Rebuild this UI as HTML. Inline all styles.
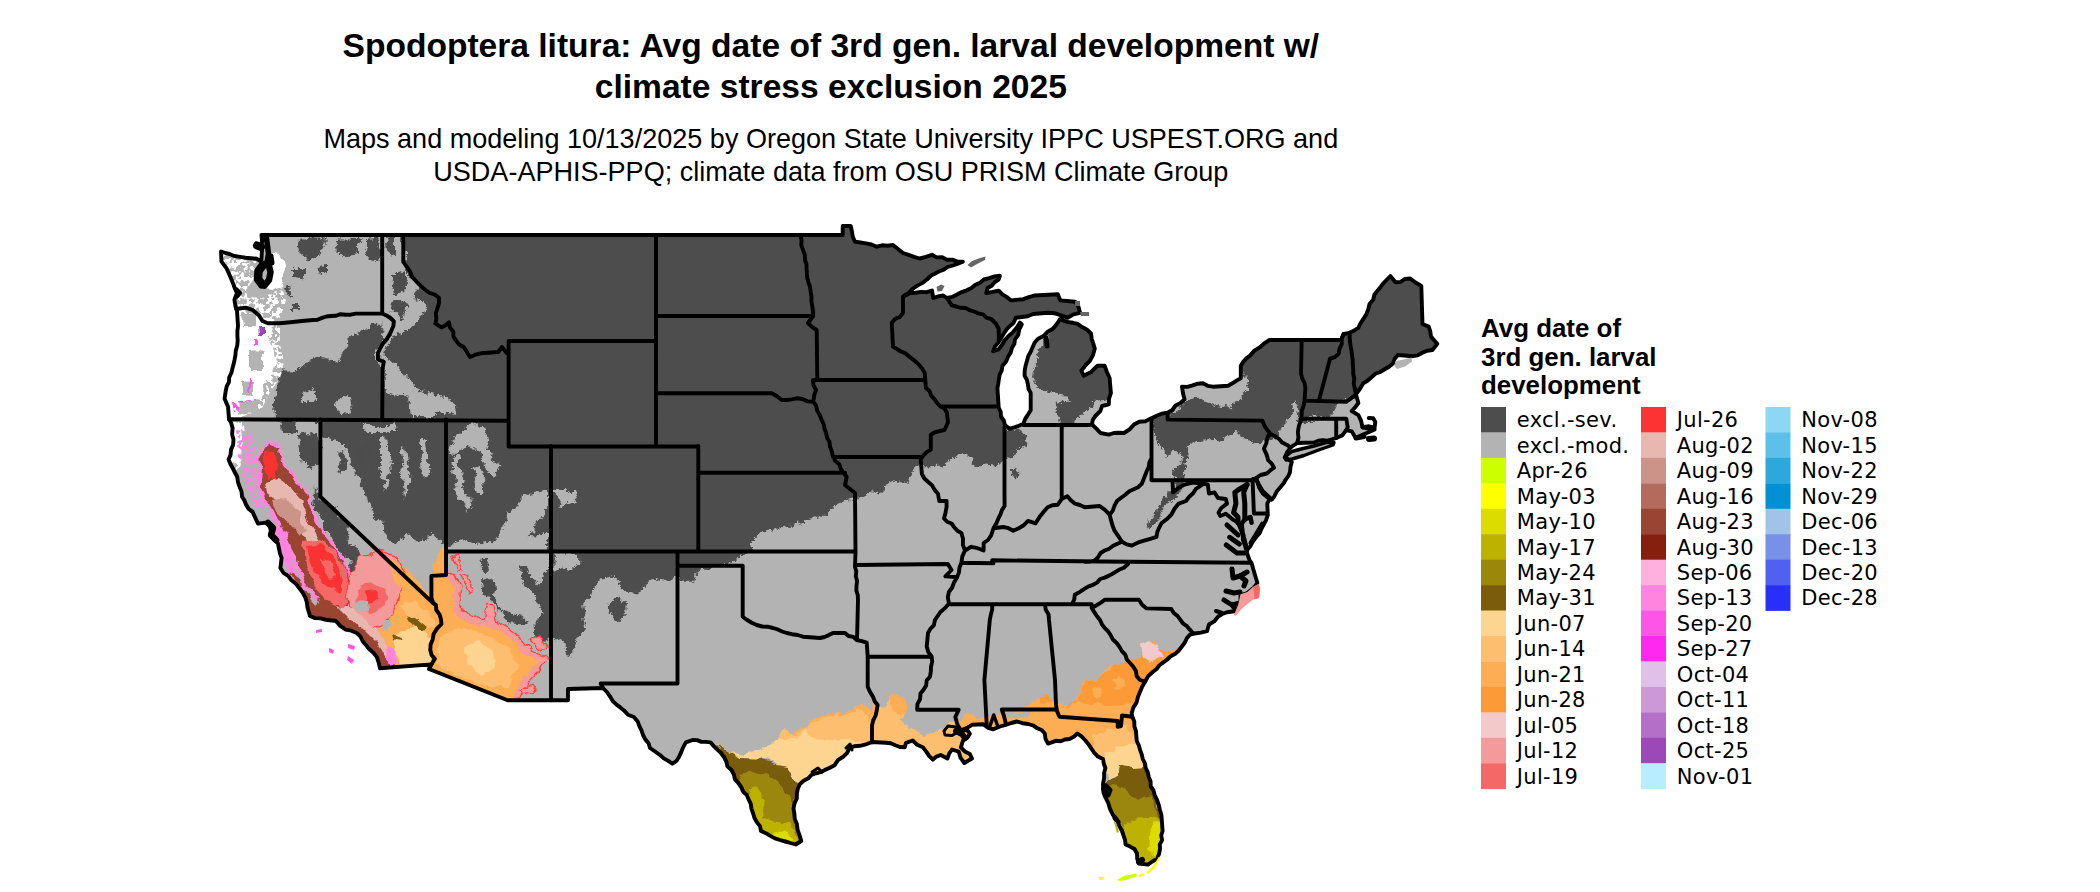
<!DOCTYPE html>
<html lang="en"><head><meta charset="utf-8"><title>Spodoptera litura map</title>
<style>html,body{margin:0;padding:0;background:#fff}body{width:2100px;height:892px;overflow:hidden}svg{display:block}.t{font-family:"Liberation Sans",sans-serif;font-weight:bold;font-size:33.57px;text-anchor:middle;fill:#000}.s{font-family:"Liberation Sans",sans-serif;font-size:27.06px;text-anchor:middle;fill:#000}.lt{font-family:"Liberation Sans",sans-serif;font-weight:bold;font-size:25.9px;fill:#000}.ll{font-family:"DejaVu Sans",sans-serif;font-size:21px;letter-spacing:0.3px;fill:#000}.b{fill:none;stroke:#000;stroke-width:3.9;stroke-linejoin:round;stroke-linecap:round}</style></head><body>
<svg width="2100" height="892" viewBox="0 0 2100 892">
<defs>
<clipPath id="us"><path d="M261.5,235.0 L842.7,235.0 L842.7,226.0 L850.7,226.0 L855.0,241.7 L876.7,246.7 L893.0,245.0 L903.0,253.0 L919.7,258.5 L932.0,254.8 L946.9,259.7 L962.9,261.7 L947.7,267.0 L931.0,275.5 L917.5,285.6 L904.0,295.7 L909.9,293.0 L932.0,290.6 L933.3,298.0 L943.2,295.5 L946.9,298.0 L971.5,288.0 L983.9,279.5 L999.9,275.8 L998.7,279.5 L987.6,288.0 L986.3,293.0 L998.7,290.6 L1011.0,300.4 L1023.3,299.2 L1034.4,295.5 L1057.8,294.3 L1060.3,300.4 L1075.1,301.7 L1080.0,312.8 L1067.7,317.7 L1060.3,315.2 L1048.0,312.8 L1033.2,314.0 L1015.9,317.7 L1013.5,323.0 L1006.6,329.4 L998.2,342.8 L993.2,351.2 L998.6,349.4 L1008.6,336.0 L1020.0,322.6 L1021.8,324.3 L1015.0,339.5 L1008.3,356.3 L1002.4,366.0 L997.4,388.0 L998.7,407.7 L1004.8,425.0 L1009.8,428.7 L1023.3,423.7 L1030.7,410.2 L1030.7,392.9 L1024.6,375.7 L1028.3,355.9 L1038.1,338.7 L1052.9,328.8 L1060.3,318.9 L1077.6,323.9 L1091.1,333.7 L1094.8,348.5 L1089.9,360.9 L1081.3,370.7 L1083.7,375.7 L1091.1,372.0 L1097.3,365.8 L1104.7,365.8 L1109.6,378.0 L1110.9,393.0 L1108.8,404.4 L1102.0,406.0 L1100.4,411.0 L1095.3,416.0 L1092.0,424.5 L1100.4,433.0 L1108.8,434.6 L1124.0,433.0 L1134.0,424.5 L1150.8,418.6 L1167.6,412.7 L1184.5,399.3 L1182.0,386.7 L1203.0,383.3 L1213.0,386.7 L1228.2,385.8 L1240.8,378.3 L1240.8,365.7 L1250.0,355.6 L1260.0,347.2 L1269.6,340.0 L1301.7,340.0 L1341.0,340.0 L1343.6,334.0 L1349.8,332.8 L1358.4,327.8 L1368.3,309.3 L1374.4,294.5 L1390.4,276.0 L1395.4,282.2 L1410.2,278.5 L1421.3,285.9 L1422.5,324.0 L1428.7,326.6 L1431.0,336.5 L1437.3,343.9 L1432.4,350.0 L1412.6,356.2 L1397.8,355.0 L1392.9,363.6 L1375.7,373.5 L1363.3,383.3 L1355.9,394.4 L1358.4,403.0 L1351.7,411.0 L1358.4,415.2 L1361.0,420.6 L1362.5,427.3 L1368.0,428.6 L1374.6,429.5 L1368.0,432.5 L1361.0,435.4 L1355.7,438.0 L1351.7,431.3 L1346.3,430.0 L1342.3,435.4 L1336.2,438.0 L1314.0,442.5 L1297.2,443.0 L1290.6,447.4 L1285.0,457.0 L1291.8,462.0 L1290.0,472.0 L1288.6,475.6 L1280.7,486.8 L1274.0,497.0 L1271.7,499.5 L1269.5,499.0 L1267.3,503.6 L1267.8,514.8 L1266.0,520.4 L1261.7,528.3 L1256.0,537.3 L1250.4,546.2 L1247.0,550.0 L1247.0,553.0 L1249.3,559.7 L1251.7,563.4 L1255.0,575.0 L1257.4,583.0 L1254.0,587.5 L1247.3,593.0 L1240.5,595.4 L1240.5,604.3 L1236.0,611.0 L1227.0,612.2 L1218.0,616.7 L1209.0,624.5 L1207.0,631.2 L1194.6,633.5 L1190.0,634.6 L1181.7,646.7 L1166.7,660.0 L1153.0,671.7 L1145.0,681.7 L1138.0,696.7 L1131.7,713.0 L1132.3,716.7 L1136.8,741.0 L1145.7,768.0 L1154.7,795.0 L1161.4,815.0 L1162.6,831.0 L1160.0,849.0 L1157.0,859.0 L1148.0,864.6 L1139.0,863.5 L1134.5,849.0 L1125.6,844.5 L1122.0,831.0 L1116.6,819.8 L1109.9,808.6 L1105.4,797.4 L1103.0,788.4 L1105.4,768.0 L1103.0,759.0 L1094.0,752.5 L1085.0,740.0 L1077.4,733.5 L1069.5,739.0 L1051.6,742.4 L1048.0,743.6 L1044.8,733.5 L1033.6,725.6 L1017.0,721.5 L1005.7,724.8 L1000.0,726.5 L993.4,729.3 L983.3,724.3 L972.0,724.8 L960.9,730.4 L967.6,730.4 L969.9,733.8 L963.0,740.5 L960.9,747.3 L969.9,754.0 L972.0,758.5 L964.3,763.0 L958.7,751.7 L952.0,749.5 L947.4,758.5 L940.7,755.0 L932.9,759.6 L922.8,747.3 L912.7,740.5 L906.0,742.8 L904.8,747.3 L885.8,742.8 L872.0,742.0 L865.0,744.7 L849.6,748.0 L842.8,757.0 L829.4,768.0 L811.4,775.0 L800.0,784.0 L796.9,793.0 L793.5,808.6 L796.9,824.0 L801.3,841.0 L795.7,844.5 L780.0,840.0 L761.0,831.0 L753.0,813.0 L748.7,799.6 L735.0,779.4 L724.0,757.0 L710.5,742.4 L692.6,740.0 L685.9,742.4 L679.0,757.0 L672.4,763.7 L660.0,755.0 L650.0,748.0 L643.0,735.0 L637.7,721.6 L624.0,710.4 L613.0,701.4 L603.0,688.0 L568.0,689.0 L568.0,700.3 L507.6,700.3 L429.0,669.0 L431.4,664.4 L380.0,668.3 L376.7,656.7 L356.7,633.0 L345.7,629.6 L335.9,621.0 L326.0,619.8 L310.0,616.0 L307.5,607.4 L302.6,592.6 L291.5,580.3 L280.4,568.0 L281.6,558.0 L277.9,543.3 L271.7,536.0 L268.0,522.4 L258.0,523.6 L254.5,516.2 L242.0,496.5 L237.2,476.7 L228.6,459.5 L233.5,439.7 L231.0,422.5 L229.0,419.0 L228.0,406.6 L224.6,398.8 L225.7,391.0 L231.3,373.0 L235.8,350.6 L238.0,326.0 L236.9,309.0 L235.5,306.5 L234.4,299.7 L237.0,293.0 L234.4,287.4 L233.3,284.0 L230.0,276.0 L226.6,268.4 L221.5,261.6 L221.0,251.5 L234.4,256.0 L245.6,257.7 L256.8,258.8 L261.3,261.6 L262.0,250.0 L261.9,239.2Z"/><path d="M1284.4,457.3 L1291.8,451.5 L1303.0,448.5 L1314.0,446.0 L1326.0,442.5 L1334.0,442.5 L1333.0,445.0 L1320.0,449.5 L1304.0,455.5 L1292.0,459.0 L1286.0,460.0Z"/></clipPath>
<filter id="rough" x="0" y="0" width="2100" height="892" filterUnits="userSpaceOnUse"><feTurbulence type="fractalNoise" baseFrequency="0.06" numOctaves="3" seed="7" result="n"/><feDisplacementMap in="SourceGraphic" in2="n" scale="14" xChannelSelector="R" yChannelSelector="G" result="d1"/><feTurbulence type="fractalNoise" baseFrequency="0.35" numOctaves="2" seed="2" result="n2"/><feDisplacementMap in="d1" in2="n2" scale="5" xChannelSelector="G" yChannelSelector="R"/></filter>
<filter id="speck" x="200" y="220" width="300" height="400" filterUnits="userSpaceOnUse"><feTurbulence type="fractalNoise" baseFrequency="0.22" numOctaves="2" seed="11" result="n"/><feColorMatrix in="n" type="matrix" values="0 0 0 0 0 0 0 0 0 0 0 0 0 0 0 14 0 0 0 -6.6" result="m"/><feComposite in="SourceGraphic" in2="m" operator="in"/></filter>
<filter id="rough2" x="0" y="0" width="2100" height="892" filterUnits="userSpaceOnUse"><feTurbulence type="fractalNoise" baseFrequency="0.11" numOctaves="2" seed="3" result="n"/><feDisplacementMap in="SourceGraphic" in2="n" scale="8" xChannelSelector="R" yChannelSelector="G"/></filter>
</defs>
<rect width="2100" height="892" fill="#fff"/>
<text class="t" x="830.8" y="57.1">Spodoptera litura: Avg date of 3rd gen. larval development w/</text>
<text class="t" x="830.8" y="97.6">climate stress exclusion 2025</text>
<text class="s" x="830.8" y="147.9">Maps and modeling 10/13/2025 by Oregon State University IPPC USPEST.ORG and</text>
<text class="s" x="830.8" y="181">USDA-APHIS-PPQ; climate data from OSU PRISM Climate Group</text>
<g clip-path="url(#us)">
<rect x="200" y="215" width="1260" height="677" fill="#b3b3b3"/>
<g filter="url(#rough)">
<path d="M403.0,225.0 L1460.0,225.0 L1460.0,352.0 L1440.0,352.0 L1425.0,358.0 L1412.0,361.0 L1400.0,361.0 L1394.0,369.0 L1378.0,379.0 L1366.0,389.0 L1361.0,397.0 L1347.0,400.0 L1338.7,403.0 L1333.7,412.9 L1321.4,416.6 L1314.0,414.0 L1308.0,421.0 L1314.0,425.0 L1301.7,425.0 L1298.0,420.3 L1296.7,403.0 L1295.5,398.0 L1291.8,408.0 L1285.6,420.3 L1279.5,430.0 L1277.0,437.6 L1269.6,442.5 L1259.7,445.0 L1252.6,445.6 L1250.2,439.5 L1237.8,432.0 L1225.5,437.0 L1220.6,445.6 L1213.2,440.7 L1198.4,442.0 L1188.5,449.3 L1186.0,461.7 L1188.5,466.6 L1183.6,481.4 L1173.7,498.7 L1163.9,511.0 L1154.0,520.9 L1146.6,525.8 L1151.5,516.0 L1161.4,503.6 L1166.3,493.7 L1173.7,479.0 L1175.0,469.0 L1181.0,456.7 L1173.7,449.3 L1163.9,453.0 L1156.5,444.4 L1154.0,432.0 L1152.0,423.4 L1130.0,415.0 L1111.0,398.0 L1104.7,400.3 L1094.8,400.3 L1087.4,410.2 L1077.6,417.6 L1075.1,423.7 L1060.3,422.5 L1055.4,412.6 L1057.8,402.8 L1067.7,401.5 L1067.7,395.4 L1052.9,394.0 L1038.1,388.0 L1033.0,380.0 L1034.0,370.0 L1038.0,355.0 L1046.0,342.0 L1052.0,335.0 L1040.0,330.0 L1010.0,380.0 L1000.0,405.0 L1006.0,428.0 L1020.6,430.8 L1029.2,437.0 L1025.5,448.0 L1013.2,455.5 L1003.3,459.2 L995.9,465.4 L978.7,464.0 L971.3,459.2 L961.4,453.0 L954.0,460.4 L941.7,465.4 L925.6,466.6 L919.5,465.4 L913.3,469.0 L909.6,478.9 L889.9,483.9 L880.0,491.0 L866.7,495.0 L846.7,500.0 L833.0,508.0 L816.7,516.7 L790.0,525.0 L766.7,530.0 L753.0,543.0 L751.7,551.7 L733.0,560.0 L723.0,563.0 L700.0,571.7 L693.0,581.7 L678.0,581.7 L678.0,576.0 L670.7,577.6 L659.0,582.0 L650.3,579.0 L635.7,593.6 L624.0,587.8 L612.4,576.0 L600.7,579.0 L592.0,590.7 L583.2,608.0 L586.0,625.7 L577.4,640.0 L571.6,657.8 L562.8,643.0 L552.6,637.0 L548.0,643.0 L536.6,640.0 L533.7,625.7 L542.4,614.0 L536.6,599.5 L522.0,579.0 L520.6,566.0 L527.8,568.9 L536.6,584.9 L548.0,573.0 L548.0,553.0 L548.0,532.4 L530.8,538.0 L536.6,520.8 L548.0,512.0 L548.0,490.0 L530.8,494.5 L519.0,506.0 L504.5,512.0 L498.7,538.0 L478.3,544.0 L463.7,538.0 L447.7,547.0 L445.0,546.7 L433.0,533.0 L420.0,540.0 L406.7,533.0 L396.7,543.0 L386.7,533.0 L380.0,520.0 L370.0,505.0 L362.0,488.0 L356.0,470.0 L350.0,455.0 L340.0,443.0 L322.0,440.0 L322.0,421.0 L300.0,421.0 L275.0,419.0 L273.9,395.4 L277.3,382.0 L284.0,368.5 L295.2,370.7 L313.0,359.5 L326.6,355.0 L335.6,361.8 L344.5,350.6 L349.0,337.0 L362.5,332.6 L371.4,323.7 L384.9,323.7 L380.4,341.6 L375.9,359.5 L381.5,368.5 L383.0,395.0 L384.8,348.3 L394.7,336.0 L402.0,333.5 L409.5,323.7 L429.2,310.0 L414.4,299.0 L419.3,286.7 L412.0,276.8 L403.3,262.0Z" fill="#4d4d4d"/>
<path d="M313.7,484.0 L321.0,501.4 L331.0,503.9 L343.3,523.6 L353.0,543.3 L363.0,558.0 L363.0,577.8 L353.0,577.8 L348.2,563.0 L338.3,548.0 L326.0,531.0 L318.6,513.7 L313.7,501.0Z" fill="#4d4d4d"/>
<path d="M349.0,447.0 L355.0,444.0 L362.0,462.0 L358.0,477.0 L352.0,468.0Z" fill="#4d4d4d"/>
<path d="M362.0,449.0 L368.0,446.0 L373.0,470.0 L367.0,481.0Z" fill="#4d4d4d"/>
<path d="M336.0,452.0 L342.0,450.0 L346.0,466.0 L340.0,470.0Z" fill="#4d4d4d"/>
<path d="M296.0,435.0 L318.0,432.0 L320.0,464.0 L308.0,468.0 L300.0,455.0Z" fill="#4d4d4d"/>
<path d="M277.0,422.0 L298.0,422.0 L296.0,432.0 L280.0,430.0Z" fill="#4d4d4d"/>
<path d="M299.7,238.5 L326.6,238.5 L326.6,249.7 L317.6,256.4 L306.4,258.6 L297.4,251.9Z" fill="#4d4d4d"/>
<path d="M334.4,238.5 L358.0,238.5 L355.7,251.9 L344.5,255.3 L335.6,249.7Z" fill="#4d4d4d"/>
<path d="M364.7,238.5 L380.4,238.5 L380.4,258.6 L371.4,256.4 L364.7,247.4Z" fill="#4d4d4d"/>
<path d="M295.0,268.0 L304.0,268.0 L304.0,279.0 L295.0,277.0Z" fill="#4d4d4d"/>
<path d="M318.0,267.0 L330.0,266.0 L330.0,272.0 L320.0,274.0Z" fill="#4d4d4d"/>
<path d="M286.0,290.0 L292.0,289.0 L293.0,295.0 L287.0,296.0Z" fill="#4d4d4d"/>
<path d="M290.0,303.0 L296.0,303.0 L296.0,309.0 L290.0,309.0Z" fill="#4d4d4d"/>
<path d="M385.0,237.0 L395.0,237.0 L395.0,255.0 L388.0,258.0Z" fill="#4d4d4d"/>
<path d="M392.0,275.0 L405.0,272.0 L408.0,290.0 L396.0,292.0Z" fill="#4d4d4d"/>
<path d="M395.0,300.0 L410.0,303.0 L402.0,318.0 L392.0,312.0Z" fill="#4d4d4d"/>
<path d="M480.0,558.7 L488.5,558.7 L488.5,571.8 L483.0,571.8Z" fill="#4d4d4d"/>
<path d="M481.0,577.6 L495.8,582.0 L492.9,596.5 L504.5,611.0 L527.8,618.4 L526.4,622.8 L510.4,621.3 L490.0,602.4 L482.7,587.8Z" fill="#4d4d4d"/>
<path d="M606.5,606.0 L615.0,596.5 L628.4,606.0 L626.0,618.0 L615.0,622.8Z" fill="#4d4d4d"/>
<path d="M606.7,602.0 L620.0,596.7 L628.0,606.0 L622.0,623.0 L610.0,618.0Z" fill="#4d4d4d"/>
<path d="M1010.7,472.0 L1016.0,469.0 L1020.6,473.0 L1016.0,477.7Z" fill="#4d4d4d"/>
<path d="M384.8,348.3 L394.7,363.0 L407.0,378.0 L419.3,390.0 L444.0,397.6 L456.3,402.6 L455.0,412.5 L444.0,416.0 L412.0,416.0 L407.0,397.6 L384.8,392.7Z" fill="#b3b3b3"/>
<path d="M448.0,453.0 L455.0,437.0 L470.0,422.5 L484.0,426.0 L491.0,449.0 L500.0,468.3 L492.0,477.0 L484.0,460.0 L471.0,444.0 L452.0,456.0Z" fill="#b3b3b3"/>
<path d="M552.6,552.8 L583.0,552.8 L580.0,565.0 L570.0,573.0 L560.0,568.0 L552.6,572.0Z" fill="#b3b3b3"/>
<path d="M1166.7,416.7 L1181.7,405.0 L1200.0,396.7 L1213.3,401.7 L1230.0,410.0 L1240.0,396.7 L1248.3,386.7 L1243.0,370.0 L1233.0,380.0 L1183.0,384.0 L1180.0,401.0Z" fill="#b3b3b3"/>
<path d="M452.0,460.0 L458.0,458.0 L462.0,480.0 L470.0,500.0 L466.0,510.0 L456.0,490.0Z" fill="#b3b3b3"/>
<path d="M470.0,470.0 L478.0,468.0 L486.0,490.0 L480.0,496.0Z" fill="#b3b3b3"/>
<path d="M380.0,440.0 L386.0,438.0 L392.0,470.0 L386.0,490.0 L380.0,470.0Z" fill="#b3b3b3"/>
<path d="M400.0,450.0 L406.0,448.0 L410.0,480.0 L404.0,500.0Z" fill="#b3b3b3"/>
<path d="M420.0,440.0 L426.0,440.0 L428.0,470.0 L422.0,480.0Z" fill="#b3b3b3"/>
<path d="M360.0,424.0 L400.0,424.0 L396.0,432.0 L366.0,432.0Z" fill="#b3b3b3"/>
<path d="M300.0,392.0 L312.0,388.0 L318.0,400.0 L304.0,404.0Z" fill="#b3b3b3"/>
<path d="M336.0,400.0 L350.0,396.0 L352.0,412.0 L340.0,414.0Z" fill="#b3b3b3"/>
<path d="M553.0,490.0 L572.0,490.0 L577.0,502.0 L560.0,506.0Z" fill="#b3b3b3"/>
</g>
<g filter="url(#rough2)">
<path d="M236.0,309.0 L260.0,314.6 L273.0,329.0 L267.4,336.4 L273.0,348.0 L276.0,361.0 L273.0,372.8 L264.5,381.6 L263.0,393.0 L257.0,402.0 L257.0,410.7 L238.0,418.0 L229.0,419.5 L223.0,398.0 L231.0,373.0 L234.0,350.0 L236.0,326.0Z" fill="#fff"/>
<path d="M271.0,253.0 L282.0,256.0 L285.0,272.0 L282.0,286.0 L272.0,290.0 L268.0,286.0Z" fill="#fff"/>
<path d="M231.0,422.0 L241.0,422.0 L242.0,440.0 L239.0,462.0 L232.0,464.0 L228.0,459.0 L233.0,440.0Z" fill="#fff"/>
</g><g filter="url(#speck)">
<path d="M221.0,251.0 L256.0,258.0 L256.0,276.0 L246.0,290.0 L248.0,300.0 L232.0,300.0 L224.0,270.0Z" fill="#fff"/>
<path d="M238.0,296.0 L262.0,298.0 L282.0,288.0 L286.0,300.0 L280.0,318.0 L266.0,322.0 L252.0,310.0 L238.0,309.0Z" fill="#fff"/>
<path d="M262.0,312.0 L280.0,322.0 L280.0,345.0 L284.0,362.0 L280.0,378.0 L270.0,392.0 L262.0,408.0 L256.0,412.0 L258.0,390.0 L268.0,372.0 L270.0,350.0 L264.0,336.0Z" fill="#fff"/>
<path d="M232.0,422.0 L244.0,422.0 L245.0,440.0 L241.0,466.0 L236.0,470.0Z" fill="#fff"/>
<path d="M232.0,402.0 L256.0,399.0 L258.0,410.0 L234.0,412.0Z" fill="#ff54e8"/>
<path d="M236.0,430.0 L250.0,432.0 L262.0,470.0 L266.0,508.0 L256.0,508.0 L244.0,480.0 L238.0,456.0Z" fill="#ff84e0"/>
</g><g filter="url(#rough2)">
<path d="M241.0,313.0 L256.0,313.0 L256.0,326.0 L243.0,326.0Z" fill="#b3b3b3"/>
<path d="M250.0,349.5 L263.0,349.5 L263.0,370.0 L250.0,370.0Z" fill="#b3b3b3"/>
<path d="M241.0,381.6 L253.0,381.6 L253.0,394.7 L241.0,394.7Z" fill="#b3b3b3"/>
<path d="M240.0,402.0 L258.0,400.0 L258.0,412.0 L238.0,413.6Z" fill="#b3b3b3"/>
<path d="M268.0,441.0 L278.0,443.0 L286.0,464.0 L297.0,479.0 L309.0,494.0 L317.0,518.0 L327.0,536.0 L341.0,553.0 L351.0,573.0 L355.0,593.0 L352.0,607.0 L347.0,612.0 L333.0,613.0 L316.0,600.0 L303.0,585.0 L293.0,560.0 L283.0,538.0 L273.0,520.0 L266.0,504.0 L257.0,489.0 L258.0,469.0 L256.0,457.0Z" fill="#ff84e0"/>
<path d="M268.0,444.7 L277.9,447.0 L282.8,464.4 L293.9,479.0 L306.3,494.0 L313.7,518.7 L323.5,536.0 L338.3,553.0 L348.2,573.0 L351.9,592.6 L345.7,607.4 L333.4,610.0 L318.6,597.6 L306.3,582.8 L296.4,558.0 L286.5,536.0 L276.7,518.7 L269.3,503.9 L260.6,489.0 L261.9,469.3 L259.4,457.0Z" fill="#9a4433"/>
<path d="M266.0,482.0 L278.0,478.0 L292.0,488.0 L302.0,500.0 L308.0,520.0 L318.0,538.0 L330.0,552.0 L326.0,560.0 L312.0,548.0 L300.0,530.0 L290.0,514.0 L278.0,502.0 L268.0,494.0Z" fill="#e8b8b0"/>
<path d="M272.0,500.0 L286.0,498.0 L298.0,512.0 L306.0,530.0 L300.0,536.0 L288.0,522.0 L276.0,512.0Z" fill="#cc9488"/>
<path d="M264.0,452.0 L274.0,452.0 L277.0,468.0 L276.0,479.0 L268.0,479.0 L264.0,468.0Z" fill="#fb3333"/>
<path d="M303.0,542.0 L320.0,539.0 L336.0,552.0 L347.0,572.0 L350.0,596.0 L343.0,607.0 L330.0,605.0 L316.0,589.0 L306.0,566.0Z" fill="#f56868"/>
<path d="M307.0,546.0 L322.0,544.0 L334.0,557.0 L342.0,577.0 L340.0,592.0 L328.0,588.0 L316.0,573.0 L309.0,558.0Z" fill="#fb3333"/>
<path d="M322.0,560.0 L330.0,562.0 L336.0,576.0 L330.0,580.0 L324.0,572.0Z" fill="#f56868"/>
<path d="M271.0,526.0 L282.0,530.0 L290.0,552.0 L297.0,578.0 L300.0,588.0 L292.0,582.0 L282.0,560.0 L276.0,544.0Z" fill="#ff84e0"/>
<path d="M290.0,572.0 L300.0,580.0 L312.0,600.0 L322.0,612.0 L336.0,620.0 L330.0,622.0 L312.0,616.0 L300.0,596.0Z" fill="#9a4433"/>
<path d="M362.0,566.0 L380.0,558.0 L400.0,562.0 L420.0,583.0 L434.0,603.0 L440.0,624.0 L433.0,634.0 L430.0,650.0 L434.0,660.0 L431.0,665.0 L390.0,668.0 L384.0,650.0 L374.0,636.0 L384.0,616.0 L398.0,604.0 L392.0,586.0 L372.0,586.0Z" fill="#fdae55"/>
<path d="M350.0,575.0 L360.0,558.0 L378.0,551.0 L396.0,556.0 L406.0,572.0 L400.0,596.0 L394.0,612.0 L382.0,626.0 L366.0,630.0 L354.0,618.0 L347.0,600.0Z" fill="#f59a9a" stroke="#fb4040" stroke-width="1.3"/>
<path d="M357.0,590.0 L371.0,583.0 L387.0,589.0 L385.0,606.0 L371.0,613.0 L358.0,604.0Z" fill="#f56868"/>
<path d="M364.0,592.0 L374.0,590.0 L378.0,600.0 L368.0,604.0Z" fill="#fb3333"/>
<path d="M388.0,560.0 L398.0,562.0 L408.0,578.0 L402.0,590.0 L394.0,580.0Z" fill="#fdae55"/>
<path d="M355.0,601.0 L368.0,600.0 L369.0,610.0 L357.0,611.0Z" fill="#b3b3b3"/>
<path d="M382.0,621.0 L390.0,621.0 L390.0,631.0 L383.0,630.0Z" fill="#b3b3b3"/>
<path d="M318.0,598.0 L336.0,605.0 L350.0,611.0 L363.0,623.0 L377.0,639.0 L391.0,655.0 L393.0,668.0 L380.0,668.3 L376.7,656.7 L356.7,633.0 L345.7,629.6 L335.9,621.0 L326.0,619.8 L310.0,616.0Z" fill="#9a4433"/>
<path d="M336.0,606.0 L352.0,608.0 L368.0,622.0 L384.0,640.0 L392.0,656.0 L388.0,660.0 L378.0,644.0 L362.0,628.0 L348.0,618.0Z" fill="#e8b8b0"/>
<path d="M386.0,646.0 L392.0,648.0 L395.0,664.0 L390.0,668.0 L387.0,658.0Z" fill="#ff84e0"/>
<path d="M398.0,632.0 L420.0,626.0 L431.0,640.0 L431.0,664.0 L400.0,667.0 L393.0,650.0Z" fill="#fdd590"/>
<path d="M400.0,606.0 L416.0,600.0 L430.0,614.0 L436.0,628.0 L424.0,628.0 L410.0,620.0Z" fill="#fdbe6f"/>
<path d="M406.0,615.0 L416.0,618.0 L427.0,627.0 L420.0,629.0 L408.0,621.0Z" fill="#7a5c0a"/>
<path d="M392.0,634.0 L400.0,637.0 L402.0,641.0 L394.0,639.0Z" fill="#7a5c0a"/>
<path d="M446.0,572.0 L452.0,574.0 L461.0,584.0 L459.0,606.0 L469.0,615.0 L485.0,621.0 L489.0,603.0 L492.0,604.0 L495.0,621.0 L500.0,622.0 L519.0,636.0 L531.0,650.0 L548.0,657.0 L538.0,671.0 L529.0,681.0 L520.0,699.0 L507.6,700.3 L429.0,669.0 L434.0,659.0 L430.0,650.0 L434.0,634.0 L441.0,624.0 L436.0,605.0 L431.0,592.0 L431.0,576.0Z" fill="#f59a9a" stroke="#fb4040" stroke-width="1.3"/>
<path d="M446.0,578.0 L455.0,588.0 L453.0,608.0 L465.0,621.0 L485.0,628.0 L498.0,629.0 L515.0,642.0 L525.0,655.0 L539.0,661.0 L531.0,670.0 L522.0,680.0 L513.0,698.0 L507.6,700.3 L429.0,669.0 L434.0,659.0 L430.0,650.0 L434.0,634.0 L441.0,624.0 L436.0,605.0 L431.0,592.0 L431.0,576.0Z" fill="#fdae55"/>
<path d="M440.0,636.0 L460.0,628.0 L486.0,634.0 L508.0,648.0 L518.0,664.0 L508.0,688.0 L480.0,684.0 L450.0,672.0 L436.0,664.0Z" fill="#fdbe6f"/>
<path d="M464.0,646.0 L480.0,642.0 L494.0,652.0 L496.0,666.0 L482.0,674.0 L468.0,664.0Z" fill="#fdd590"/>
<path d="M440.0,548.0 L446.0,546.0 L447.0,574.0 L432.0,575.0Z" fill="#fdae55"/>
<path d="M452.0,556.0 L456.0,556.0 L462.0,570.0 L458.0,572.0Z" fill="#f59a9a" stroke="#fb4040" stroke-width="1.3"/>
<path d="M462.0,576.0 L466.0,574.0 L474.0,590.0 L470.0,592.0Z" fill="#f59a9a" stroke="#fb4040" stroke-width="1.3"/>
<path d="M530.0,640.0 L540.0,636.0 L548.0,648.0 L540.0,650.0Z" fill="#f59a9a" stroke="#fb4040" stroke-width="1.3"/>
<path d="M520.0,690.0 L532.0,684.0 L536.0,690.0 L524.0,696.0Z" fill="#f59a9a" stroke="#fb4040" stroke-width="1.3"/>
<path d="M786.0,728.0 L793.0,734.0 L806.0,727.0 L811.0,720.0 L829.0,714.0 L847.0,712.0 L861.0,704.0 L872.0,712.0 L873.0,700.0 L878.0,705.0 L872.0,726.0 L872.0,742.0 L850.0,748.0 L830.0,760.0 L812.0,748.0 L796.0,744.0 L784.0,738.0Z" fill="#fdae55"/>
<path d="M777.0,738.0 L786.0,728.0 L796.0,736.0 L806.0,728.0 L812.0,722.0 L830.0,716.0 L847.0,714.0 L860.0,708.0 L870.0,716.0 L872.0,742.0 L865.0,745.0 L850.0,748.0 L843.0,757.0 L829.0,768.0 L811.0,775.0 L800.0,760.0 L780.0,752.0Z" fill="#fdbe6f"/>
<path d="M717.0,744.0 L730.0,752.0 L744.0,755.0 L762.0,750.0 L778.0,740.0 L796.0,740.0 L805.0,730.0 L811.0,739.0 L829.0,740.0 L847.0,739.0 L865.0,745.0 L850.0,748.0 L843.0,757.0 L829.0,768.0 L811.0,775.0 L800.0,784.0 L797.0,790.0 L790.0,770.0 L775.0,762.0 L760.0,758.0 L740.0,758.0 L724.0,757.0Z" fill="#fdd590"/>
<path d="M717.0,744.7 L739.7,758.0 L760.0,759.0 L775.6,763.7 L786.8,766.0 L793.5,779.4 L799.0,786.0 L797.0,793.0 L793.5,808.0 L797.0,824.0 L801.0,841.0 L796.0,844.5 L780.0,840.0 L761.0,831.0 L753.0,813.0 L748.7,799.6 L735.0,779.4 L724.0,757.0Z" fill="#7a5c0a"/>
<path d="M738.0,775.0 L752.0,772.0 L768.0,776.0 L782.0,786.0 L792.0,800.0 L795.0,824.0 L800.0,841.0 L796.0,844.5 L780.0,840.0 L761.0,831.0 L753.0,813.0 L748.7,799.6Z" fill="#9b8709"/>
<path d="M748.0,790.0 L758.0,786.0 L764.0,800.0 L762.0,818.0 L772.0,822.0 L790.0,824.0 L797.0,838.0 L796.0,844.5 L780.0,840.0 L761.0,831.0 L753.0,813.0Z" fill="#bdb200"/>
<path d="M770.0,834.0 L786.0,832.0 L794.0,842.0 L780.0,840.0Z" fill="#dcdc00"/>
<path d="M872.0,712.0 L884.0,706.0 L893.0,696.0 L904.0,700.0 L907.0,713.0 L900.0,720.0 L912.0,730.0 L925.0,736.0 L940.0,730.0 L950.0,724.0 L960.0,722.0 L972.0,722.0 L974.0,760.0 L964.0,766.0 L946.0,760.0 L933.0,761.0 L920.0,749.0 L906.0,749.0 L896.0,748.0 L883.0,744.0 L872.0,744.0Z" fill="#fdbe6f"/>
<path d="M888.0,694.0 L896.0,692.0 L906.0,702.0 L908.0,714.0 L898.0,714.0 L890.0,706.0Z" fill="#fdae55"/>
<path d="M958.0,722.0 L968.0,713.0 L978.0,718.0 L988.0,716.0 L1000.0,716.0 L1000.0,728.0 L985.0,728.0 L970.0,730.0 L960.0,734.0Z" fill="#fdae55"/>
<path d="M985.0,722.0 L1000.0,716.0 L1004.0,710.0 L1020.0,710.0 L1036.0,700.0 L1043.0,695.0 L1055.0,703.0 L1072.0,705.0 L1085.0,682.0 L1100.0,678.0 L1110.0,667.0 L1128.0,663.0 L1140.0,657.0 L1152.0,640.0 L1160.0,650.0 L1173.0,653.0 L1182.0,646.0 L1167.0,660.0 L1153.0,672.0 L1145.0,682.0 L1138.0,697.0 L1132.0,715.0 L1137.0,741.0 L1142.0,756.0 L1120.0,760.0 L1103.0,759.0 L1094.0,752.0 L1085.0,740.0 L1077.0,733.0 L1069.0,739.0 L1048.0,744.0 L1045.0,733.0 L1034.0,726.0 L1014.0,722.0 L1000.0,726.0 L985.0,728.0Z" fill="#fdae55"/>
<path d="M1059.0,704.4 L1067.0,707.0 L1074.0,704.4 L1080.7,692.0 L1086.0,681.5 L1096.8,680.0 L1106.0,673.4 L1111.6,666.7 L1121.0,664.0 L1129.0,660.0 L1140.0,656.7 L1151.7,640.0 L1160.0,650.0 L1173.0,653.0 L1182.0,646.0 L1167.0,660.0 L1153.0,672.0 L1145.0,682.0 L1139.0,690.0 L1134.0,703.0 L1129.0,704.5 L1114.0,706.0 L1094.0,703.5 L1075.0,700.5 L1062.0,708.0Z" fill="#fd9a38"/>
<path d="M1092.0,690.0 L1100.0,688.0 L1104.0,696.0 L1096.0,699.0Z" fill="#fdae55"/>
<path d="M1112.0,680.0 L1120.0,676.0 L1126.0,684.0 L1118.0,690.0Z" fill="#fdae55"/>
<path d="M1040.0,696.0 L1048.0,694.0 L1052.0,702.0 L1044.0,705.0Z" fill="#fd9a38"/>
<path d="M1004.0,711.5 L1030.0,711.5 L1028.0,717.0 L1016.0,719.5 L1006.0,717.5Z" fill="#b3b3b3"/>
<path d="M1140.0,644.0 L1150.0,640.0 L1158.0,648.0 L1163.0,656.0 L1152.0,662.0 L1142.0,658.0Z" fill="#f3c9c9"/>
<path d="M1094.0,735.0 L1110.0,728.0 L1126.0,726.0 L1134.0,732.0 L1140.0,750.0 L1143.0,762.0 L1120.0,766.0 L1105.0,768.0 L1103.0,759.0 L1094.0,752.0Z" fill="#fdbe6f"/>
<path d="M1106.0,752.0 L1120.0,746.0 L1136.0,744.0 L1142.0,758.0 L1146.0,768.0 L1134.0,768.0 L1120.0,764.0 L1119.0,775.0 L1108.0,779.0 L1105.0,768.0Z" fill="#fdd590"/>
<path d="M1107.6,779.4 L1118.8,775.0 L1120.0,763.7 L1134.5,768.0 L1146.0,767.0 L1155.0,795.0 L1161.0,815.0 L1162.6,831.0 L1160.0,849.0 L1157.0,859.0 L1148.0,864.6 L1139.0,863.5 L1134.5,849.0 L1125.6,844.5 L1122.0,831.0 L1116.6,819.8 L1109.9,808.6 L1105.4,797.4 L1103.0,788.4Z" fill="#7a5c0a"/>
<path d="M1106.0,792.0 L1116.0,786.0 L1126.0,790.0 L1138.0,800.0 L1150.0,796.0 L1158.0,812.0 L1162.6,831.0 L1160.0,849.0 L1157.0,859.0 L1148.0,864.6 L1139.0,863.5 L1134.5,849.0 L1125.6,844.5 L1122.0,831.0 L1116.6,819.8 L1109.9,808.6Z" fill="#9b8709"/>
<path d="M1122.0,826.0 L1132.0,820.0 L1144.0,818.0 L1154.0,816.0 L1161.0,822.0 L1162.6,831.0 L1160.0,849.0 L1157.0,859.0 L1148.0,864.6 L1139.0,863.5 L1134.5,849.0 L1125.6,844.5Z" fill="#bdb200"/>
<path d="M1152.0,824.0 L1161.0,822.0 L1162.6,831.0 L1160.0,849.0 L1156.0,858.0 L1150.0,850.0Z" fill="#dcdc00"/>
<path d="M1244.0,548.0 L1248.0,548.0 L1248.0,554.0 L1244.0,554.0Z" fill="#f59a9a"/>
<path d="M316.0,630.0 L322.0,629.0 L322.0,632.0 L316.0,633.0Z" fill="#ff54e8"/>
<path d="M329.0,648.0 L334.0,650.0 L333.0,654.0 L329.0,652.0Z" fill="#ff54e8"/>
<path d="M348.0,644.0 L355.0,646.0 L354.0,650.0 L348.0,648.0Z" fill="#ff54e8"/>
<path d="M348.0,656.0 L354.0,660.0 L352.0,664.0 L347.0,660.0Z" fill="#ff54e8"/>
<path d="M259.0,327.0 L265.0,327.0 L265.0,335.0 L260.0,335.0Z" fill="#9c48b8"/>
<path d="M254.0,341.0 L258.0,341.0 L257.0,346.0 L254.0,346.0Z" fill="#ff54e8"/>
<path d="M249.0,376.0 L251.0,376.0 L251.0,392.0 L249.0,392.0Z" fill="#ff54e8"/>
</g>
</g>
<g class="b">
<path d="M261.5,235.0 L842.7,235.0 L842.7,226.0 L850.7,226.0 L851.9,231.3 L852.8,236.7 L855.0,241.7 L860.5,242.5 L866.0,243.4 L871.5,244.5 L876.7,246.7 L882.1,245.3 L887.6,245.8 L893.0,245.0 L898.0,249.0 L903.0,253.0 L908.5,254.9 L914.1,256.9 L919.7,258.5 L925.9,256.9 L932.0,254.8 L936.7,257.4 L942.2,257.2 L946.9,259.7 L952.3,259.6 L957.5,261.6 L962.9,261.7 L957.9,263.7 L952.9,265.5 L947.7,267.0 L943.8,269.6 L939.4,271.3 L935.2,273.4 L931.0,275.5 L927.0,279.5 L922.5,282.9 L917.5,285.6 L912.8,288.7 L908.9,292.9 L904.0,295.7 L909.9,293.0 L915.5,292.7 L921.0,291.9 L926.6,292.2 L932.0,290.6 L933.3,298.0 L938.2,296.4 L943.2,295.5 L946.9,298.0 L952.2,296.9 L957.0,294.5 L961.7,292.1 L966.7,290.3 L971.5,288.0 L975.3,284.7 L980.0,282.7 L983.9,279.5 L989.2,278.1 L994.4,276.4 L999.9,275.8 L998.7,279.5 L994.8,282.0 L991.7,285.7 L987.6,288.0 L986.3,293.0 L992.5,291.9 L998.7,290.6 L1002.4,294.3 L1006.9,297.1 L1011.0,300.4 L1023.3,299.2 L1028.8,297.2 L1034.4,295.5 L1057.8,294.3 L1060.3,300.4 L1075.1,301.7 L1078.5,306.8 L1080.0,312.8 L1073.5,314.4 L1067.7,317.7 L1060.3,315.2 L1054.3,313.2 L1048.0,312.8 L1033.2,314.0 L1027.7,316.3 L1021.8,317.0 L1015.9,317.7 L1013.5,323.0 L1009.9,326.0 L1006.6,329.4 L1003.7,333.8 L1001.0,338.3 L998.2,342.8 L994.9,346.5 L993.2,351.2 L998.6,349.4 L1002.0,344.9 L1004.8,340.1 L1008.6,336.0 L1013.1,332.1 L1016.8,327.6 L1020.0,322.6 L1021.8,324.3 L1019.3,329.3 L1018.2,334.9 L1015.0,339.5 L1014.3,344.1 L1011.9,348.0 L1010.8,352.4 L1008.3,356.3 L1006.1,361.6 L1002.4,366.0 L1001.7,370.5 L999.7,374.6 L998.9,379.1 L998.3,383.6 L997.4,388.0 L998.7,407.7 L1000.7,411.8 L1001.0,416.6 L1003.8,420.5 L1004.8,425.0 L1009.8,428.7 L1014.4,427.4 L1018.9,425.7 L1023.3,423.7 L1025.2,418.9 L1028.0,414.6 L1030.7,410.2 L1030.7,392.9 L1028.5,388.8 L1027.9,384.2 L1026.8,379.7 L1024.6,375.7 L1024.7,370.6 L1025.6,365.6 L1027.0,360.8 L1028.3,355.9 L1030.8,351.6 L1032.7,347.0 L1034.7,342.5 L1038.1,338.7 L1043.5,336.1 L1047.7,331.7 L1052.9,328.8 L1056.8,324.0 L1060.3,318.9 L1064.4,320.9 L1068.7,322.3 L1073.2,322.8 L1077.6,323.9 L1082.1,327.1 L1087.1,329.7 L1091.1,333.7 L1091.7,338.8 L1093.3,343.6 L1094.8,348.5 L1093.0,355.0 L1089.9,360.9 L1085.3,365.5 L1081.3,370.7 L1083.7,375.7 L1091.1,372.0 L1097.3,365.8 L1104.7,365.8 L1106.9,372.0 L1109.6,378.0 L1110.9,393.0 L1109.0,398.6 L1108.8,404.4 L1102.0,406.0 L1100.4,411.0 L1095.3,416.0 L1092.8,419.9 L1092.0,424.5 L1096.4,428.6 L1100.4,433.0 L1108.8,434.6 L1113.8,433.0 L1118.8,432.7 L1124.0,433.0 L1129.6,429.4 L1134.0,424.5 L1139.3,421.7 L1145.5,421.3 L1150.8,418.6 L1156.2,416.1 L1161.6,413.7 L1167.6,412.7 L1172.3,410.0 L1175.6,405.5 L1180.6,403.0 L1184.5,399.3 L1182.9,393.1 L1182.0,386.7 L1187.4,386.9 L1192.6,385.4 L1197.7,383.7 L1203.0,383.3 L1207.7,385.8 L1213.0,386.7 L1228.2,385.8 L1232.4,383.3 L1236.5,380.6 L1240.8,378.3 L1240.8,365.7 L1243.2,361.8 L1246.4,358.4 L1250.0,355.6 L1254.4,350.6 L1260.0,347.2 L1264.5,343.2 L1269.6,340.0 L1301.7,340.0 L1341.0,340.0 L1343.6,334.0 L1349.8,332.8 L1354.2,330.4 L1358.4,327.8 L1360.6,323.0 L1363.6,318.7 L1366.3,314.2 L1368.3,309.3 L1369.5,304.0 L1373.2,299.8 L1374.4,294.5 L1377.5,290.7 L1380.6,286.9 L1383.6,283.0 L1387.0,279.5 L1390.4,276.0 L1395.4,282.2 L1400.6,281.9 L1405.1,278.9 L1410.2,278.5 L1415.5,282.5 L1421.3,285.9 L1422.5,324.0 L1428.7,326.6 L1430.3,331.4 L1431.0,336.5 L1434.1,340.3 L1437.3,343.9 L1432.4,350.0 L1427.2,350.7 L1422.4,352.8 L1417.7,355.3 L1412.6,356.2 L1397.8,355.0 L1394.6,358.9 L1392.9,363.6 L1389.0,366.8 L1384.7,369.3 L1380.5,371.8 L1375.7,373.5 L1371.8,377.0 L1367.8,380.5 L1363.3,383.3 L1359.8,389.0 L1355.9,394.4 L1358.4,403.0 L1355.3,407.2 L1351.7,411.0 L1358.4,415.2 L1361.0,420.6 L1362.5,427.3 L1368.0,428.6 L1374.6,429.5 L1368.0,432.5 L1361.0,435.4 L1355.7,438.0 L1351.7,431.3 L1346.3,430.0 L1342.3,435.4 L1336.2,438.0 L1331.9,439.4 L1327.5,440.6 L1322.8,440.3 L1318.3,440.8 L1314.0,442.5 L1297.2,443.0 L1290.6,447.4 L1287.3,451.9 L1285.0,457.0 L1291.8,462.0 L1290.5,466.9 L1290.0,472.0 L1288.6,475.6 L1285.9,479.3 L1283.7,483.3 L1280.7,486.8 L1276.7,491.5 L1274.0,497.0 L1271.7,499.5 L1269.5,499.0 L1267.3,503.6 L1267.8,514.8 L1266.0,520.4 L1261.7,528.3 L1259.6,533.3 L1256.0,537.3 L1252.8,541.5 L1250.4,546.2 L1247.0,550.0 L1247.0,553.0 L1249.3,559.7 L1251.7,563.4 L1253.3,569.2 L1255.0,575.0 L1257.4,583.0 L1254.0,587.5 L1247.3,593.0 L1240.5,595.4 L1240.5,604.3 L1236.0,611.0 L1227.0,612.2 L1222.3,614.0 L1218.0,616.7 L1214.2,621.4 L1209.0,624.5 L1207.0,631.2 L1200.8,632.6 L1194.6,633.5 L1190.0,634.6 L1186.8,638.3 L1184.7,642.8 L1181.7,646.7 L1178.6,650.8 L1174.9,654.1 L1170.3,656.5 L1166.7,660.0 L1163.0,662.6 L1159.4,665.3 L1156.6,669.0 L1153.0,671.7 L1148.2,676.1 L1145.0,681.7 L1142.3,686.5 L1140.2,691.6 L1138.0,696.7 L1136.6,702.4 L1133.4,707.4 L1131.7,713.0 L1132.3,716.7 L1134.3,721.4 L1134.4,726.4 L1136.0,731.1 L1136.3,736.1 L1136.8,741.0 L1138.8,745.3 L1140.1,749.9 L1141.7,754.4 L1142.8,759.0 L1144.9,763.3 L1145.7,768.0 L1147.8,772.3 L1148.8,777.0 L1150.6,781.4 L1150.7,786.3 L1153.5,790.4 L1154.7,795.0 L1157.0,799.8 L1158.7,804.8 L1159.9,810.0 L1161.4,815.0 L1162.6,831.0 L1161.2,835.4 L1162.1,840.1 L1159.8,844.4 L1160.0,849.0 L1159.0,854.1 L1157.0,859.0 L1152.3,861.5 L1148.0,864.6 L1139.0,863.5 L1137.2,858.7 L1137.0,853.5 L1134.5,849.0 L1130.1,846.6 L1125.6,844.5 L1125.0,839.8 L1123.5,835.4 L1122.0,831.0 L1119.1,825.5 L1116.6,819.8 L1112.7,814.5 L1109.9,808.6 L1108.2,802.8 L1105.4,797.4 L1103.6,793.1 L1103.0,788.4 L1103.1,783.2 L1104.1,778.2 L1104.1,773.0 L1105.4,768.0 L1103.8,763.6 L1103.0,759.0 L1097.9,756.6 L1094.0,752.5 L1091.1,748.2 L1088.3,743.9 L1085.0,740.0 L1081.5,736.4 L1077.4,733.5 L1073.8,736.7 L1069.5,739.0 L1064.9,739.5 L1060.7,741.3 L1055.9,740.8 L1051.6,742.4 L1048.0,743.6 L1045.5,738.8 L1044.8,733.5 L1041.6,730.0 L1037.3,728.3 L1033.6,725.6 L1028.1,724.0 L1022.5,723.2 L1017.0,721.5 L1011.3,723.0 L1005.7,724.8 L1000.0,726.5 L993.4,729.3 L987.9,727.8 L983.3,724.3 L972.0,724.8 L966.7,728.1 L960.9,730.4 L967.6,730.4 L969.9,733.8 L967.2,737.9 L963.0,740.5 L960.9,747.3 L964.8,751.4 L969.9,754.0 L972.0,758.5 L964.3,763.0 L960.6,757.8 L958.7,751.7 L952.0,749.5 L949.1,753.7 L947.4,758.5 L940.7,755.0 L936.4,756.6 L932.9,759.6 L929.1,755.8 L926.1,751.4 L922.8,747.3 L917.2,744.8 L912.7,740.5 L906.0,742.8 L904.8,747.3 L899.9,747.0 L895.3,745.2 L890.7,743.2 L885.8,742.8 L872.0,742.0 L865.0,744.7 L859.9,745.8 L854.6,746.2 L849.6,748.0 L847.0,753.1 L842.8,757.0 L837.9,760.1 L834.6,765.2 L829.4,768.0 L825.0,769.9 L820.7,772.2 L815.9,773.3 L811.4,775.0 L808.0,778.6 L803.6,780.7 L800.0,784.0 L797.9,788.3 L796.9,793.0 L796.8,798.4 L794.5,803.4 L793.5,808.6 L794.4,813.8 L794.8,819.1 L796.9,824.0 L797.6,829.9 L799.6,835.4 L801.3,841.0 L795.7,844.5 L790.5,843.0 L785.2,841.5 L780.0,840.0 L774.9,838.4 L770.3,835.9 L765.8,833.2 L761.0,831.0 L760.0,826.1 L756.8,822.1 L754.4,817.8 L753.0,813.0 L751.4,808.6 L750.8,803.9 L748.7,799.6 L746.8,795.0 L743.1,791.6 L741.2,787.0 L738.3,783.0 L735.0,779.4 L733.8,774.4 L731.5,770.0 L727.4,766.4 L726.3,761.5 L724.0,757.0 L721.0,753.0 L717.4,749.6 L713.8,746.1 L710.5,742.4 L706.0,741.9 L701.5,741.9 L697.1,740.1 L692.6,740.0 L685.9,742.4 L683.2,747.1 L681.2,752.1 L679.0,757.0 L676.4,761.0 L672.4,763.7 L668.2,760.9 L663.8,758.4 L660.0,755.0 L655.0,751.5 L650.0,748.0 L648.6,743.2 L645.3,739.4 L643.0,735.0 L641.5,730.4 L639.4,726.1 L637.7,721.6 L633.8,717.0 L628.0,714.8 L624.0,710.4 L620.3,707.4 L616.5,704.6 L613.0,701.4 L610.1,696.6 L606.9,692.0 L603.0,688.0 L568.0,689.0 L568.0,700.3 L507.6,700.3 L429.0,669.0 L431.4,664.4 L380.0,668.3 L378.6,662.4 L376.7,656.7 L373.4,652.7 L369.4,649.3 L366.2,645.3 L362.8,641.4 L360.5,636.5 L356.7,633.0 L351.4,630.7 L345.7,629.6 L340.2,625.9 L335.9,621.0 L326.0,619.8 L320.7,618.4 L315.1,618.1 L310.0,616.0 L307.5,607.4 L306.8,602.2 L305.2,597.2 L302.6,592.6 L299.3,588.1 L295.9,583.8 L291.5,580.3 L288.2,575.8 L283.4,572.8 L280.4,568.0 L281.6,558.0 L279.9,553.2 L278.9,548.2 L277.9,543.3 L274.3,540.0 L271.7,536.0 L271.1,531.3 L269.8,526.8 L268.0,522.4 L258.0,523.6 L254.5,516.2 L252.6,511.9 L248.7,508.9 L246.2,504.9 L244.4,500.5 L242.0,496.5 L241.5,491.4 L239.5,486.6 L237.9,481.8 L237.2,476.7 L234.9,472.5 L232.7,468.2 L230.4,464.0 L228.6,459.5 L230.6,454.7 L231.0,449.6 L233.1,444.9 L233.5,439.7 L232.1,434.1 L232.6,428.1 L231.0,422.5 L229.0,419.0 L228.0,406.6 L224.6,398.8 L225.7,391.0 L226.7,386.4 L228.9,382.1 L229.2,377.3 L231.3,373.0 L232.4,368.6 L233.6,364.1 L234.6,359.7 L235.4,355.2 L235.8,350.6 L237.2,345.8 L237.7,340.9 L237.4,335.9 L237.4,330.9 L238.0,326.0 L236.9,309.0 L235.5,306.5 L234.4,299.7 L237.0,293.0 L234.4,287.4 L233.3,284.0 L230.0,276.0 L226.6,268.4 L221.5,261.6 L221.0,251.5 L225.5,253.0 L230.0,254.2 L234.4,256.0 L240.0,256.9 L245.6,257.7 L256.8,258.8 L261.3,261.6 L262.0,250.0 L261.9,239.2Z"/>
<path d="M1284.4,457.3 L1291.8,451.5 L1303.0,448.5 L1314.0,446.0 L1326.0,442.5 L1334.0,442.5 L1333.0,445.0 L1320.0,449.5 L1304.0,455.5 L1292.0,459.0 L1286.0,460.0Z" stroke-width="3.4"/>
<path d="M236.0,309.0 L245.6,307.6 L252.4,309.8 L259.0,315.4 L262.4,321.0 L268.0,323.3 L279.3,323.3 L290.5,322.2 L302.0,321.0 L313.0,320.0 L317.6,319.8 L322.0,317.9 L326.4,316.5 L331.0,316.0 L335.6,315.8 L340.5,314.2 L345.6,314.7 L350.7,314.7 L355.7,313.6 L382.2,313.6 M382.2,235.0 L382.2,313.6 L386.6,315.5 L390.5,318.0 L393.9,321.4 L393.3,326.2 L391.4,330.6 L389.4,334.9 L386.6,339.4 L383.0,343.4 L380.4,348.0 L378.0,352.8 L378.0,359.5 L383.8,361.8 L382.6,368.5 L382.2,419.5 M403.3,235.0 L403.3,262.0 L406.6,266.7 L410.0,271.4 L412.0,276.8 L415.2,280.2 L418.4,283.7 L421.9,286.9 L425.4,290.0 L429.2,292.8 L434.5,294.5 L439.0,297.8 L439.0,303.1 L437.5,308.2 L435.8,313.2 L436.4,318.6 L435.4,323.7 L441.5,327.4 L445.5,325.3 L449.0,322.4 L449.9,327.4 L453.2,331.5 L453.6,336.7 L456.3,341.0 L459.4,344.7 L463.7,347.0 L466.9,351.9 L469.9,357.0 L475.3,354.7 L481.0,353.3 L498.3,352.0 L502.0,347.0 L506.9,353.3 L508.6,353.3 M229.0,419.3 L508.6,420.8 M508.6,341.0 L656.0,341.0 M508.6,341.0 L508.6,446.0 M508.6,446.5 L698.3,446.2 M656.0,235.0 L656.0,446.0 M656.0,316.0 L813.3,316.0 M656.0,393.3 L771.7,393.3 L777.0,396.3 L781.7,400.0 L786.8,400.0 L791.8,399.4 L796.7,398.3 L802.3,399.0 L807.6,401.4 L813.3,401.7 M551.0,446.0 L551.0,700.3 M446.0,551.5 L853.3,551.5 M446.0,419.5 L446.0,575.0 L431.4,575.9 L431.4,591.6 L431.4,597.6 L433.3,603.3 L435.9,605.0 L436.3,610.0 L439.5,614.3 L440.9,619.0 L441.5,624.0 L437.0,628.6 L433.6,634.0 L432.7,639.4 L430.6,644.5 L430.3,650.0 L431.6,654.9 L434.8,658.8 L431.4,664.4 M320.4,419.5 L320.4,496.7 L433.3,603.3 M698.3,446.0 L698.3,551.5 M698.3,472.7 L845.0,472.7 M677.5,551.5 L677.5,683.5 L600.7,683.5 L603.0,688.0 M677.5,565.7 L742.7,565.7 L742.7,616.7 L747.1,620.0 L751.7,622.7 L756.7,625.0 L762.0,626.5 L767.6,626.7 L773.0,628.0 L777.7,629.4 L782.1,631.5 L786.7,633.0 L792.1,634.2 L797.7,635.0 L803.0,636.7 L820.0,638.0 L824.6,637.0 L828.8,635.1 L833.0,633.0 L845.0,633.0 L848.5,636.0 L853.3,636.8 L856.7,640.0 L861.8,641.1 L866.7,642.7 L867.7,656.7 L867.7,686.7 L870.0,691.9 L873.0,696.7 L874.7,701.2 L877.6,705.0 L876.8,710.3 L875.6,715.5 L873.2,720.4 L872.0,725.6 L872.0,742.4 M800.0,235.0 L801.6,239.9 L801.3,245.1 L803.1,250.0 L804.8,254.8 L805.0,260.0 L806.5,264.3 L806.6,268.9 L806.9,273.5 L807.3,278.0 L808.4,282.4 L810.0,286.7 L810.6,291.6 L811.5,296.4 L811.4,301.4 L812.3,306.2 L813.0,311.1 L813.3,316.0 L808.0,323.0 L812.0,326.9 L816.7,330.0 L817.3,380.0 L813.0,380.0 L813.5,385.3 L816.0,390.0 L814.1,395.7 L813.3,401.7 L816.1,405.9 L817.3,410.9 L819.8,415.3 L821.7,420.0 L823.7,424.3 L824.6,428.9 L826.2,433.2 L827.1,437.8 L829.5,442.0 L830.0,446.7 L831.9,451.6 L833.0,456.7 L835.3,461.0 L839.2,464.2 L840.8,469.0 L843.6,472.9 L846.7,476.7 L845.0,485.0 L850.0,489.0 L855.0,493.0 L855.5,551.5 L855.0,566.7 L856.3,571.4 L855.8,576.2 L857.1,580.9 L856.5,585.7 L856.4,590.6 L857.8,595.2 L858.0,600.0 L857.0,640.0 M813.3,380.0 L925.0,380.0 M833.0,457.0 L920.7,457.0 M855.0,565.0 L947.8,564.0 L951.5,570.0 L945.4,576.3 L956.5,577.0 M867.7,656.7 L931.7,656.7 M909.9,293.0 L903.0,296.7 L903.0,313.0 L899.7,316.9 L895.0,319.1 L891.7,323.0 L893.0,346.7 L900.0,351.0 L905.5,353.4 L910.1,357.3 L914.8,360.9 L918.7,364.4 L922.1,368.4 L924.7,373.0 L925.9,388.0 L929.5,391.1 L931.2,395.6 L934.3,399.0 L937.0,402.8 L940.1,406.3 L944.4,408.6 L946.9,412.6 L948.0,422.5 L944.4,430.0 L939.6,431.0 L935.0,432.3 L930.8,434.8 L930.8,449.6 L926.7,452.1 L923.4,455.3 L920.7,459.2 L921.9,474.0 L924.4,478.5 L928.2,482.0 L932.1,485.4 L934.6,489.9 L938.0,493.7 L939.2,501.0 L946.6,501.0 L946.6,506.9 L945.5,512.7 L944.0,518.4 L947.1,521.8 L951.6,523.5 L954.3,527.3 L957.3,530.8 L961.4,533.0 L963.0,538.7 L962.9,544.9 L965.0,550.5 L962.3,556.4 L961.4,562.8 L959.5,567.5 L958.9,572.6 L956.9,577.8 L954.0,582.5 L952.2,587.5 L948.9,592.0 L947.8,597.3 L949.0,603.5 L945.1,608.1 L940.4,612.0 L937.7,616.0 L934.9,620.1 L933.9,625.1 L930.5,628.8 L928.0,633.0 L926.7,646.7 L928.4,652.1 L931.7,656.7 L932.2,661.8 L931.0,666.7 L930.8,671.7 L930.0,676.7 L926.7,680.4 L926.1,685.6 L923.5,689.7 L920.5,693.5 L920.1,699.0 L917.4,704.1 L917.2,709.7 L958.7,709.7 L955.3,717.0 L957.5,724.8 L960.9,730.4 M946.9,298.0 L951.8,305.4 L956.3,306.5 L960.7,307.8 L965.4,308.0 L969.6,310.2 L974.0,311.5 L978.3,313.4 L983.1,314.3 L986.7,317.8 L991.3,319.0 L995.7,323.3 L998.7,328.8 L998.9,341.0 M942.0,406.5 L998.0,406.5 M1004.5,427.0 L1004.5,493.7 L1004.6,506.0 L1002.0,509.8 L1000.5,514.3 L998.4,518.4 L996.3,523.5 L993.5,528.3 M965.0,550.5 L971.3,546.8 L977.6,548.2 L983.6,550.5 L983.6,543.0 L988.0,540.0 L991.0,535.7 L993.5,528.3 L1003.3,527.0 L1008.5,528.2 L1013.2,530.7 L1018.2,528.5 L1023.0,525.8 L1028.0,520.9 L1035.4,523.3 L1040.3,515.9 L1043.9,511.5 L1047.7,507.3 L1052.4,505.2 L1057.6,504.8 L1062.0,498.7 L1067.4,496.2 L1070.8,500.2 L1074.8,503.6 L1079.9,505.0 L1084.7,507.3 L1099.7,506.0 L1105.0,509.9 L1109.6,514.7 L1112.8,510.6 L1114.5,505.6 L1117.0,501.0 L1121.1,497.8 L1125.3,494.7 L1129.3,491.3 L1133.7,489.3 L1138.1,487.2 L1141.7,483.9 L1144.2,477.7 L1146.6,471.5 L1148.7,467.2 L1149.4,462.3 L1151.5,458.0 M1023.3,425.0 L1089.9,425.0 M1061.7,425.0 L1061.7,498.7 M1151.5,419.0 L1151.5,480.2 L1252.6,480.2 M1167.6,413.6 L1167.6,419.6 L1262.4,420.6 L1264.1,425.0 L1266.5,429.1 L1269.7,432.7 L1267.4,437.9 L1266.2,443.5 L1263.9,448.7 L1266.5,454.4 L1268.3,460.4 L1271.7,463.6 L1274.0,467.7 L1270.3,470.4 L1266.8,473.5 L1260.6,475.0 L1255.2,478.6 L1252.6,480.2 L1253.9,513.5 L1266.0,513.5 M1270.5,434.0 L1274.9,436.1 L1278.9,438.8 L1282.2,442.6 L1286.6,444.7 L1290.6,447.4 M1109.6,514.7 L1111.0,520.1 L1112.5,525.5 L1114.5,530.7 L1118.3,536.2 L1122.0,541.8 L1126.6,544.4 L1131.8,545.5 L1137.7,542.7 L1144.0,540.6 L1150.3,538.8 L1156.5,536.9 L1157.3,532.1 L1159.2,527.6 L1161.4,523.3 L1166.6,519.3 L1171.3,514.7 L1174.5,508.8 L1178.7,503.6 L1186.0,501.0 L1189.2,496.8 L1193.1,493.3 L1196.0,488.8 L1203.3,483.9 L1207.8,484.6 L1209.0,493.5 L1214.6,492.4 L1218.0,498.0 L1225.8,499.0 L1227.0,503.6 L1221.3,508.0 L1218.5,512.6 L1220.2,516.0 L1225.8,513.7 L1232.5,519.3 L1238.0,522.7 L1241.0,530.0 L1242.7,534.9 L1243.0,540.0 L1244.6,544.5 L1246.0,549.0 M1172.5,480.2 L1173.0,492.5 L1177.9,488.2 L1183.6,485.0 L1188.5,483.6 L1193.5,482.6 L1203.3,483.9 M1122.0,541.8 L1117.5,543.7 L1113.1,545.7 L1109.2,548.7 L1104.7,550.5 L1100.6,553.0 L1098.2,557.1 L1094.8,560.3 L1090.0,561.9 L1085.0,562.0 M961.4,562.8 L993.5,563.3 L992.2,560.3 L1100.0,561.5 L1250.0,562.8 M1128.0,564.0 L1123.9,567.7 L1118.9,569.8 L1114.3,572.7 L1109.6,575.4 L1104.7,577.6 L1100.2,579.0 L1097.0,582.6 L1093.0,584.8 L1088.6,586.3 L1084.7,588.7 L1079.9,591.9 L1074.8,594.8 L1074.3,599.3 L1072.4,603.5 M949.0,604.2 L1091.7,604.2 L1091.7,608.0 M1091.7,608.0 L1096.2,605.5 L1100.5,602.8 L1104.7,599.8 L1139.0,599.8 L1142.1,604.7 L1146.6,608.4 L1171.3,609.0 L1173.7,613.0 L1177.5,615.9 L1180.3,619.6 L1182.9,623.4 L1186.9,626.1 L1189.8,629.7 L1193.0,633.0 M1091.7,608.0 L1094.3,612.1 L1097.0,616.2 L1100.0,620.0 L1102.0,624.4 L1104.8,628.2 L1108.3,631.5 L1110.8,635.6 L1113.1,639.8 L1116.7,643.0 L1119.5,646.9 L1121.9,651.1 L1125.3,654.6 L1126.8,659.4 L1130.0,663.0 L1133.3,666.8 L1135.9,671.0 L1136.7,676.2 L1140.0,680.0 L1145.0,681.7 M1045.0,604.2 L1045.7,609.6 L1048.6,614.5 L1049.0,620.0 L1055.0,680.0 L1056.0,705.0 L1057.0,711.1 L1059.4,716.7 L1117.7,721.0 L1117.7,726.8 L1121.0,726.0 L1122.0,715.5 L1132.3,716.7 M992.2,604.2 L992.2,609.6 L990.8,614.8 L989.8,620.0 L984.4,680.0 L986.7,725.0 M1056.0,709.5 L1001.8,709.5 L1004.0,716.0 L1005.7,723.0 M1301.7,340.0 L1301.0,373.5 L1302.2,378.4 L1304.5,383.0 L1305.4,388.0 L1304.6,400.6 L1303.5,405.8 L1301.8,410.9 L1301.7,416.3 L1300.4,421.5 L1298.7,426.7 L1297.9,432.1 L1298.4,437.7 L1297.2,443.0 M1343.6,334.0 L1341.7,338.8 L1341.8,344.0 L1339.6,348.7 L1338.7,353.7 L1334.8,357.1 L1330.0,358.7 L1318.9,400.8 M1349.8,332.8 L1349.6,337.4 L1350.0,341.9 L1350.7,346.5 L1351.5,351.0 L1352.1,355.5 L1352.7,360.0 L1352.8,364.7 L1353.2,369.3 L1353.2,374.0 L1354.3,378.7 L1353.7,383.4 L1354.7,388.0 L1355.9,394.4 M1304.6,400.6 L1346.0,401.8 L1351.1,398.3 L1356.0,394.4 M1300.8,418.8 L1346.3,418.8 L1347.7,427.3 L1346.3,430.0 M1336.2,418.8 L1336.2,438.0"/>
<path d="M1253.0,479.0 L1257.0,481.0 L1259.4,488.0 L1262.8,493.5 L1269.5,499.0" stroke-width="3.9"/>
<path d="M1256.0,478.0 L1258.3,483.5 L1262.8,491.3 L1271.7,499.5" stroke-width="3.9"/>
<path d="M1247.0,550.0 L1244.8,541.7 L1242.6,532.8 L1241.5,523.8 L1244.8,519.3 L1250.4,517.0 L1251.6,522.7" stroke-width="4.5"/>
<path d="M1244.8,519.3 L1244.8,503.6 L1243.7,492.4 L1247.0,484.6" stroke-width="5"/>
<path d="M1247.0,484.6 L1238.0,490.0 L1234.8,492.4 L1235.9,503.6 L1233.6,512.6 L1238.0,517.0 L1238.0,522.7" stroke-width="5"/>
<path d="M1227.0,525.0 L1238.0,535.0" stroke-width="5"/>
<path d="M1229.7,537.3 L1239.2,544.0" stroke-width="5"/>
<path d="M1226.3,545.0 L1237.0,553.0 L1244.8,553.0" stroke-width="5"/>
<path d="M1262.0,523.0 L1256.0,533.0 L1250.0,543.0" stroke-width="3"/>
<path d="M257.0,245.5 L261.0,247.0" stroke-width="8"/>
<path d="M263.0,240.0 L266.0,239.0" stroke-width="5"/>
<path d="M266.5,238.0 L267.5,246.0 L268.5,254.0 L267.0,262.0" stroke-width="5.5"/>
<path d="M271.0,256.0 L272.0,263.0" stroke-width="5"/>
<path d="M263.0,265.0 L258.5,271.0 L258.0,279.0 L262.0,284.5" stroke-width="8.5"/>
<path d="M268.5,264.0 L270.5,272.0 L269.0,280.0 L264.5,285.5" stroke-width="6.5"/>
<path d="M236.5,290.0 L239.5,293.0 L237.0,296.0" stroke-width="5"/>
<path d="M268.0,523.0 L273.0,528.0 L271.0,535.0 L276.0,540.0" stroke-width="6.5"/>
<path d="M1104.0,790.0 L1108.0,795.0 L1110.0,790.0 L1106.0,786.0" stroke-width="5"/>
<path d="M1115.0,818.0 L1118.0,822.0" stroke-width="5"/>
<path d="M1139.0,862.0 L1142.0,860.0" stroke-width="6"/>
<path d="M1046.0,338.0 L1047.0,346.0" stroke-width="5"/>
<path d="M944.0,731.0 L948.0,726.0 L956.0,727.0 L958.0,732.0 L952.0,735.5 L945.0,735.0 L944.0,731.0" stroke-width="3"/>
<path d="M956.0,731.0 L962.0,734.0 L965.0,738.0" stroke-width="6"/>
<path d="M990.0,726.0 L993.7,715.0 L997.7,726.0" stroke-width="3.5"/>
<path d="M846.0,748.0 L850.0,744.0 L852.0,750.0" stroke-width="3"/>
<path d="M812.0,772.0 L818.0,768.0 L822.0,772.0" stroke-width="3"/>
<path d="M1232.0,569.0 L1233.0,578.0 L1240.0,576.0 L1247.0,572.0" stroke-width="5"/>
<path d="M1240.0,576.0 L1246.0,581.0 L1244.0,586.0" stroke-width="5"/>
<path d="M1226.0,591.0 L1234.0,593.0 L1240.0,592.0" stroke-width="5"/>
<path d="M1224.0,600.0 L1232.0,605.0 L1240.0,603.0" stroke-width="5"/>
<path d="M1232.0,605.0 L1236.0,610.0" stroke-width="5"/>
<path d="M1216.0,611.0 L1222.0,613.0" stroke-width="4"/>
<path d="M1362.5,427.3 L1369.0,426.3 L1374.6,427.6 L1375.3,422.0 L1373.2,418.2 L1368.8,418.0" stroke-width="3.9"/>
<path d="M1356.0,438.0 L1364.0,436.5" stroke-width="5"/>
<path d="M1369.0,439.0 L1374.0,438.5" stroke-width="6"/>
</g>
<path d="M1395.5,361.0 L1404.0,359.5 L1411.5,357.5 L1412.0,361.5 L1405.0,366.5 L1397.0,369.0 L1394.5,366.0Z" fill="#b3b3b3"/>
<path d="M967.5,265.0 L972.0,261.0 L980.0,258.0 L985.5,256.5 L985.0,260.0 L978.0,263.5 L971.0,267.5Z" fill="#666666"/>
<path d="M936.5,287.0 L941.0,284.5 L944.5,286.0 L942.0,291.0 L937.5,291.5Z" fill="#666666"/>
<path d="M1075.0,301.0 L1080.0,301.0 L1080.0,306.0 L1075.0,306.0Z" fill="#666666"/>
<path d="M1080.0,312.0 L1089.0,312.0 L1089.0,316.0 L1081.0,316.0Z" fill="#666666"/>
<path d="M1240.5,594.2 L1247.3,592.0 L1252.9,587.0 L1258.5,584.0 L1260.0,588.6 L1259.0,598.0 L1252.9,599.8 L1247.3,604.3 L1242.8,607.7 L1236.0,615.5 L1233.8,615.5 L1238.3,604.3Z" fill="#f59a9a"/>
<path d="M1252.9,587.0 L1258.5,584.0 L1260.0,588.6 L1259.0,598.0 L1254.5,599.3 L1254.0,593.0Z" fill="#f56868"/>
<path d="M1117.0,880.0 L1124.0,876.0 L1136.0,873.5 L1137.0,876.0 L1128.0,879.5 L1120.0,881.0Z" fill="#ccff00"/>
<path d="M1138.5,875.0 L1143.0,873.3 L1143.8,875.5 L1139.5,877.3Z" fill="#ffff00"/>
<path d="M1146.3,872.5 L1153.0,866.0 L1159.0,856.5 L1160.5,857.5 L1154.5,868.0 L1147.5,874.3Z" fill="#ffff00"/>
<path d="M1114.0,822.0 L1116.0,822.0 L1119.0,832.0 L1117.0,833.0Z" fill="#bdb200"/>
<path d="M1099.0,877.0 L1103.0,877.0 L1103.0,880.0 L1099.0,880.0Z" fill="#ffff00"/>
<path d="M316.0,630.0 L322.0,629.0 L322.0,632.0 L316.0,633.0Z" fill="#ff54e8"/>
<path d="M329.0,648.0 L334.0,650.0 L333.0,654.0 L329.0,652.0Z" fill="#ff54e8"/>
<path d="M348.0,644.0 L355.0,646.0 L354.0,650.0 L348.0,648.0Z" fill="#ff54e8"/>
<path d="M348.0,656.0 L354.0,660.0 L352.0,664.0 L347.0,660.0Z" fill="#ff54e8"/>
<text class="lt" x="1481" y="337.3">Avg date of</text>
<text class="lt" x="1481" y="365.5">3rd gen. larval</text>
<text class="lt" x="1481" y="393.5">development</text>
<rect x="1481" y="407.0" width="25" height="25.8" fill="#4d4d4d"/>
<text class="ll" x="1516.8" y="427.3">excl.-sev.</text>
<rect x="1481" y="432.4" width="25" height="25.8" fill="#b3b3b3"/>
<text class="ll" x="1516.8" y="452.8">excl.-mod.</text>
<rect x="1481" y="457.9" width="25" height="25.8" fill="#ccff00"/>
<text class="ll" x="1516.8" y="478.2">Apr-26</text>
<rect x="1481" y="483.4" width="25" height="25.8" fill="#ffff00"/>
<text class="ll" x="1516.8" y="503.7">May-03</text>
<rect x="1481" y="508.8" width="25" height="25.8" fill="#dcdc00"/>
<text class="ll" x="1516.8" y="529.1">May-10</text>
<rect x="1481" y="534.2" width="25" height="25.8" fill="#bdb200"/>
<text class="ll" x="1516.8" y="554.5">May-17</text>
<rect x="1481" y="559.7" width="25" height="25.8" fill="#9b8709"/>
<text class="ll" x="1516.8" y="580.0">May-24</text>
<rect x="1481" y="585.1" width="25" height="25.8" fill="#7a5c0a"/>
<text class="ll" x="1516.8" y="605.4">May-31</text>
<rect x="1481" y="610.6" width="25" height="25.8" fill="#fdd590"/>
<text class="ll" x="1516.8" y="630.9">Jun-07</text>
<rect x="1481" y="636.0" width="25" height="25.8" fill="#fdbe6f"/>
<text class="ll" x="1516.8" y="656.3">Jun-14</text>
<rect x="1481" y="661.5" width="25" height="25.8" fill="#fdae55"/>
<text class="ll" x="1516.8" y="681.8">Jun-21</text>
<rect x="1481" y="687.0" width="25" height="25.8" fill="#fd9a38"/>
<text class="ll" x="1516.8" y="707.2">Jun-28</text>
<rect x="1481" y="712.4" width="25" height="25.8" fill="#f3c9c9"/>
<text class="ll" x="1516.8" y="732.7">Jul-05</text>
<rect x="1481" y="737.8" width="25" height="25.8" fill="#f59a9a"/>
<text class="ll" x="1516.8" y="758.1">Jul-12</text>
<rect x="1481" y="763.3" width="25" height="25.8" fill="#f56868"/>
<text class="ll" x="1516.8" y="783.6">Jul-19</text>
<rect x="1641" y="407.0" width="25" height="25.8" fill="#fb3333"/>
<text class="ll" x="1676.8" y="427.3">Jul-26</text>
<rect x="1641" y="432.4" width="25" height="25.8" fill="#e8b8b0"/>
<text class="ll" x="1676.8" y="452.8">Aug-02</text>
<rect x="1641" y="457.9" width="25" height="25.8" fill="#cc9488"/>
<text class="ll" x="1676.8" y="478.2">Aug-09</text>
<rect x="1641" y="483.4" width="25" height="25.8" fill="#b36b5e"/>
<text class="ll" x="1676.8" y="503.7">Aug-16</text>
<rect x="1641" y="508.8" width="25" height="25.8" fill="#9a4433"/>
<text class="ll" x="1676.8" y="529.1">Aug-23</text>
<rect x="1641" y="534.2" width="25" height="25.8" fill="#86200e"/>
<text class="ll" x="1676.8" y="554.5">Aug-30</text>
<rect x="1641" y="559.7" width="25" height="25.8" fill="#ffb0dc"/>
<text class="ll" x="1676.8" y="580.0">Sep-06</text>
<rect x="1641" y="585.1" width="25" height="25.8" fill="#ff84e0"/>
<text class="ll" x="1676.8" y="605.4">Sep-13</text>
<rect x="1641" y="610.6" width="25" height="25.8" fill="#ff54e8"/>
<text class="ll" x="1676.8" y="630.9">Sep-20</text>
<rect x="1641" y="636.0" width="25" height="25.8" fill="#ff28f0"/>
<text class="ll" x="1676.8" y="656.3">Sep-27</text>
<rect x="1641" y="661.5" width="25" height="25.8" fill="#e0c0e8"/>
<text class="ll" x="1676.8" y="681.8">Oct-04</text>
<rect x="1641" y="687.0" width="25" height="25.8" fill="#cc98d8"/>
<text class="ll" x="1676.8" y="707.2">Oct-11</text>
<rect x="1641" y="712.4" width="25" height="25.8" fill="#b470c8"/>
<text class="ll" x="1676.8" y="732.7">Oct-18</text>
<rect x="1641" y="737.8" width="25" height="25.8" fill="#9c48b8"/>
<text class="ll" x="1676.8" y="758.1">Oct-25</text>
<rect x="1641" y="763.3" width="25" height="25.8" fill="#b8ecff"/>
<text class="ll" x="1676.8" y="783.6">Nov-01</text>
<rect x="1765.5" y="407.0" width="25" height="25.8" fill="#8cd8f4"/>
<text class="ll" x="1801.3" y="427.3">Nov-08</text>
<rect x="1765.5" y="432.4" width="25" height="25.8" fill="#5cc0e8"/>
<text class="ll" x="1801.3" y="452.8">Nov-15</text>
<rect x="1765.5" y="457.9" width="25" height="25.8" fill="#2ca8dc"/>
<text class="ll" x="1801.3" y="478.2">Nov-22</text>
<rect x="1765.5" y="483.4" width="25" height="25.8" fill="#0090d4"/>
<text class="ll" x="1801.3" y="503.7">Nov-29</text>
<rect x="1765.5" y="508.8" width="25" height="25.8" fill="#a0c4e8"/>
<text class="ll" x="1801.3" y="529.1">Dec-06</text>
<rect x="1765.5" y="534.2" width="25" height="25.8" fill="#7890e8"/>
<text class="ll" x="1801.3" y="554.5">Dec-13</text>
<rect x="1765.5" y="559.7" width="25" height="25.8" fill="#5060f0"/>
<text class="ll" x="1801.3" y="580.0">Dec-20</text>
<rect x="1765.5" y="585.1" width="25" height="25.8" fill="#2830f8"/>
<text class="ll" x="1801.3" y="605.4">Dec-28</text>
</svg></body></html>
